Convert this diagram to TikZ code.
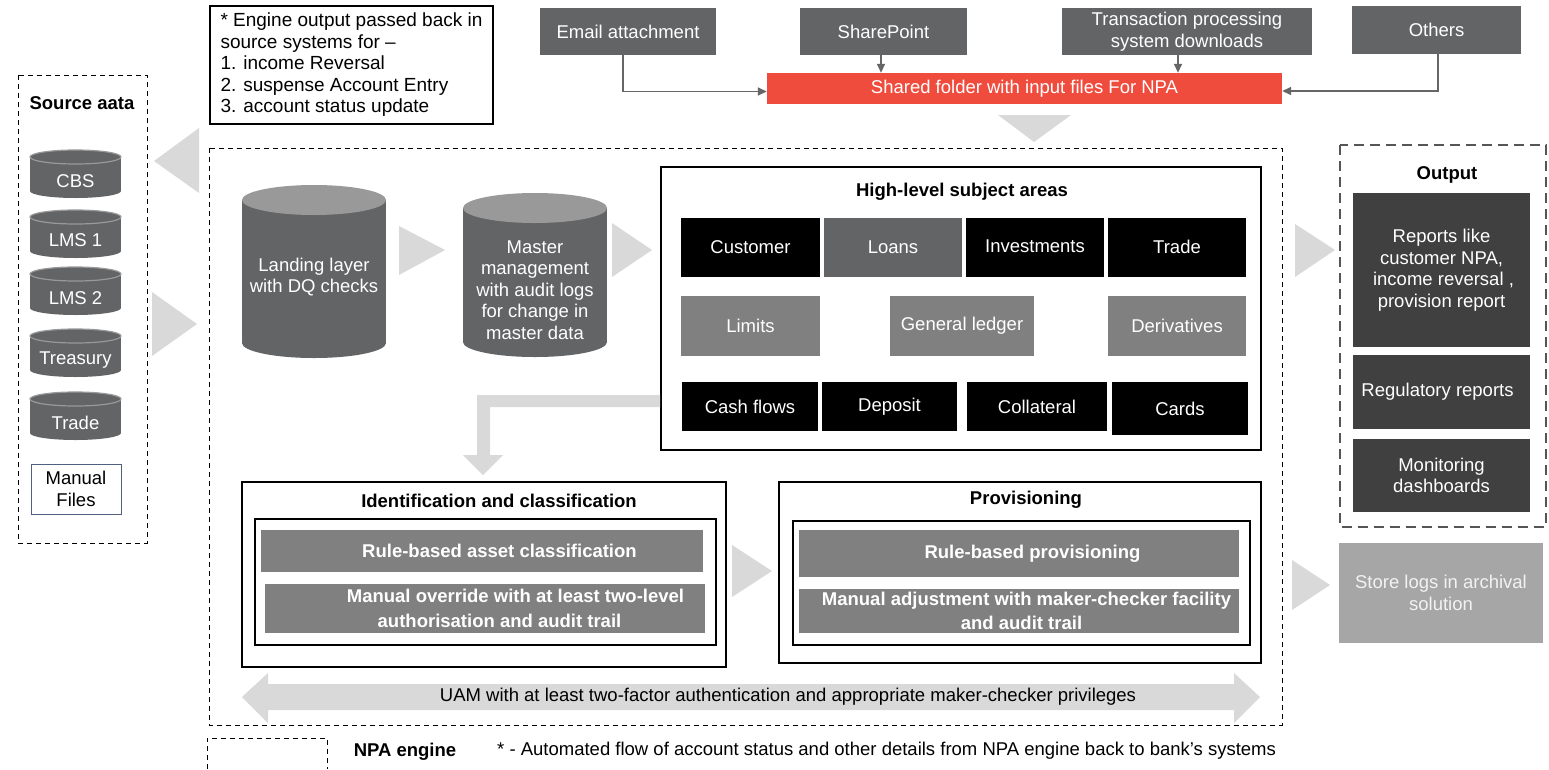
\documentclass[tikz,border=0pt]{standalone}
\usepackage{fontspec}
\setmainfont{Liberation Sans}
\usetikzlibrary{arrows.meta}
\newcommand\myfs{\fontsize{18.5}{21.5}\selectfont}
\newcommand\myrulefs{\fontsize{18.5}{24.5}\selectfont}
\newcommand\mynotefs{\fontsize{19}{21.5}\selectfont}
\definecolor{dg}{RGB}{99,100,102}
\definecolor{cyltop}{RGB}{153,153,153}
\definecolor{nred}{RGB}{240,76,62}
\definecolor{mg}{RGB}{128,128,128}
\definecolor{lg}{RGB}{217,217,217}
\definecolor{og}{RGB}{64,64,64}
\definecolor{sg}{RGB}{166,166,166}
\definecolor{lnc}{RGB}{102,102,102}
\definecolor{mfb}{RGB}{80,96,128}
\definecolor{odash}{RGB}{85,85,85}
% box from corners: style, x1, y1, x2, y2, name, text
\newcommand\rbox[7]{\node[#1,minimum width={(#4)-(#2)},minimum height={(#5)-(#3)}] (#6) at ({((#2)+(#4))/2},{((#3)+(#5))/2}) {#7};}
% cylinder: name, x1, x2, ytop, ybot, ry, top style, text y, text
\newcommand\mycyl[9]{%
  \fill[dg] ({((#2)+(#3))/2},{(#5)-(#6)}) ellipse [x radius={((#3)-(#2))/2*1pt}, y radius={(#6)*1pt}];
  \fill[dg] (#2,{(#4)+(#6)}) rectangle (#3,{(#5)-(#6)});
  \path[#7] ({((#2)+(#3))/2},{(#4)+(#6)}) ellipse [x radius={((#3)-(#2))/2*1pt}, y radius={(#6)*1pt}];
  \node[cyltext] (#1) at ({((#2)+(#3))/2},#8) {#9};}
\tikzset{
  darkbox/.style={fill=dg, text=white, inner sep=0pt, align=center},
  redbox/.style={fill=nred, text=white, inner sep=0pt, align=center},
  blackbox/.style={fill=black, text=white, inner sep=0pt, align=center},
  midbox/.style={fill=mg, text=white, inner sep=0pt, align=center},
  rulebox/.style={fill=mg, text=white, inner sep=0pt, align=center, font=\myrulefs\bfseries},
  outbox/.style={fill=og, text=white, inner sep=0pt, align=center},
  framebox/.style={draw=black, line width=1.2pt, inner sep=0pt},
  cyltext/.style={text=white, align=center, inner sep=0pt},
  smalltop/.style={fill=dg, draw=cyltop, line width=1.2pt},
  bigtop/.style={fill=cyltop},
  conn/.style={draw=lnc, line width=1.5pt, -{Triangle[length=9pt,width=8pt]}},
  blockarrow/.style={fill=lg, draw=none},
  thindash/.style={draw=black, line width=1pt, dash pattern=on 5pt off 4pt},
  thickdash/.style={draw=odash, line width=2.2pt, dash pattern=on 10pt off 6pt},
  titletext/.style={font=\myfs\bfseries, inner sep=0pt}
}
\begin{document}
\begin{tikzpicture}[x=1pt,y=-1pt,font=\myfs]
\useasboundingbox (0,0) rectangle (1549,769);
\fill[white] (0,0) rectangle (1549,769);

% ---------- top input sources ----------
\rbox{darkbox}{540}{8}{716}{55}{email}{Email attachment}
\rbox{darkbox}{800}{8}{967}{55}{sp}{SharePoint}
\rbox{darkbox}{1062}{8}{1312}{55}{tr}{Transaction processing\\system downloads}
\rbox{darkbox}{1352}{6}{1521}{54}{oth}{Others}
\rbox{redbox}{767}{73}{1282}{104}{shared}{Shared folder with input files For NPA}

\draw[conn] ([xshift=-5pt]email.south) |- ([yshift=-3pt]shared.west);
\draw[conn] ([xshift=-2.5pt]sp.south) -- ([xshift=-2.5pt]sp.south |- shared.north);
\draw[conn] ([xshift=-9pt]tr.south) -- ([xshift=-9pt]tr.south |- shared.north);
\draw[conn] ([xshift=1.5pt]oth.south) |- ([yshift=-2.5pt]shared.east);

% down arrow into engine
\fill[blockarrow] (998,115) -- (1071,115) -- (1034,142) -- cycle;

% ---------- note ----------
\node[draw=black, line width=1.2pt, minimum width=283, minimum height=118, align=left, inner sep=0pt, font=\mynotefs] (note) at (351.5,65)
  {* Engine output passed back in\\source systems for --\\1. income Reversal\\2. suspense Account Entry\\3. account status update};

% ---------- source data ----------
\draw[thindash] (18,75) rectangle (147,543);
\node[titletext] (srctitle) at (82,103) {Source aata};
\mycyl{cbs}{30}{121}{150}{198}{7}{smalltop}{181}{CBS}
\mycyl{lms1}{30}{121}{210}{258}{7}{smalltop}{240}{LMS 1}
\mycyl{lms2}{30}{121}{267}{315}{7}{smalltop}{298}{LMS 2}
\mycyl{treas}{30}{121}{329}{377}{7}{smalltop}{360}{Treasury}
\mycyl{trade}{30}{121}{392}{440}{7}{smalltop}{423}{Trade}
\rbox{draw=mfb, line width=1pt, inner sep=0pt, align=center}{31}{464}{121}{514}{manual}{Manual\\Files}

% block arrows left
\fill[blockarrow] (154,161) -- (199,128) -- (199,193) -- cycle;
\fill[blockarrow] (152,292) -- (197,324) -- (152,356) -- cycle;

% ---------- NPA engine ----------
\draw[thindash] (209,148) rectangle (1282,725);

\mycyl{landing}{242}{386}{185}{358}{15}{bigtop}{277}{Landing layer\\with DQ checks}
\mycyl{master}{463}{607}{193}{357}{15}{bigtop}{290}{Master\\management\\with audit logs\\for change in\\master data}
\fill[blockarrow] (399,226) -- (445,250) -- (399,275) -- cycle;
\fill[blockarrow] (612,223) -- (652,250) -- (612,277) -- cycle;

% high-level subject areas
\rbox{framebox}{661}{167}{1261}{450}{hl}{}
\node[titletext] (hltitle) at (962,192) {High-level subject areas};
\rbox{blackbox}{681}{218}{820}{277}{cust}{\raisebox{-2pt}{Customer}}
\rbox{darkbox}{824}{218}{962}{277}{loans}{\raisebox{1pt}{Loans}}
\rbox{blackbox}{966}{218}{1104}{277}{inv}{\raisebox{2pt}{Investments}}
\rbox{blackbox}{1108}{218}{1246}{277}{trd}{\raisebox{2pt}{Trade}}
\rbox{midbox}{681}{296}{820}{356}{lim}{Limits}
\rbox{midbox}{890}{296}{1034}{356}{gl}{General ledger}
\rbox{midbox}{1108}{296}{1246}{356}{der}{Derivatives}
\rbox{blackbox}{682}{382}{818}{431}{cash}{Cash flows}
\rbox{blackbox}{822}{382}{957}{431}{dep}{Deposit}
\rbox{blackbox}{967}{382}{1107}{431}{coll}{Collateral}
\rbox{blackbox}{1112}{382}{1248}{435}{cards}{Cards}

% L-shaped arrow
\fill[blockarrow] (660,395) -- (477,395) -- (477,455) -- (463,455) -- (483,475) -- (503,455) -- (490,455) -- (490,407) -- (660,407) -- cycle;

% identification and classification
\rbox{framebox}{242}{482}{726}{667}{ident}{}
\node[titletext] (identtitle) at (499,501) {Identification and classification};
\rbox{framebox}{255}{519}{716}{645}{identin}{}
\rbox{rulebox}{261}{530}{703}{572}{rbac}{\hspace*{35pt}Rule-based asset classification}
\rbox{rulebox}{265}{584}{705}{633}{movr}{\hspace*{61pt}Manual override with at least two-level\\\hspace*{29pt}authorisation and audit trail}

\fill[blockarrow] (732,545) -- (772,571) -- (732,597) -- cycle;

% provisioning
\rbox{framebox}{779}{482}{1261}{663}{prov}{}
\node[titletext] (provtitle) at (1026,500) {Provisioning};
\rbox{framebox}{793}{521}{1250}{645}{provin}{}
\rbox{rulebox}{799}{530}{1239}{577}{rbp}{\hspace*{27pt}Rule-based provisioning}
\rbox{rulebox}{799}{589}{1239}{633}{madj}{\hspace*{15pt}Manual adjustment with maker-checker facility\\\hspace*{5pt}and audit trail}

% UAM double arrow
\fill[blockarrow] (242,697) -- (268,673) -- (268,684) -- (1234,684) -- (1234,673) -- (1260,697) -- (1234,723) -- (1234,710) -- (268,710) -- (268,723) -- cycle;
\node[inner sep=0pt] (uam) at (788,697) {UAM with at least two-factor authentication and appropriate maker-checker privileges};

% ---------- output ----------
\draw[thickdash] (1340,145) rectangle (1546,527);
\node[titletext] (outtitle) at (1447,175) {Output};
\rbox{outbox}{1353}{193}{1530}{347}{rep}{Reports like\\customer NPA,\\\hspace*{4pt}income reversal ,\\provision report}
\rbox{outbox}{1353}{355}{1530}{429}{reg}{Regulatory reports\hspace*{8pt}}
\rbox{outbox}{1353}{439}{1530}{512}{mon}{Monitoring\\dashboards}
\rbox{fill=sg, text=white!95!black, inner sep=0pt, align=center}{1339}{543}{1543}{643}{store}{Store logs in archival\\solution}
\fill[blockarrow] (1295,224) -- (1335,250) -- (1295,277) -- cycle;
\fill[blockarrow] (1292,560) -- (1330,585) -- (1292,610) -- cycle;

% ---------- legend ----------
\draw[thindash] (207,769) -- (207,738) -- (327,738) -- (327,769);
\node[titletext] (legnpa) at (405,752) {NPA engine};
\node[inner sep=0pt, anchor=west] (legnote) at (497,751) {* - Automated flow of account status and other details from NPA engine back to bank’s systems};
\end{tikzpicture}
\end{document}
